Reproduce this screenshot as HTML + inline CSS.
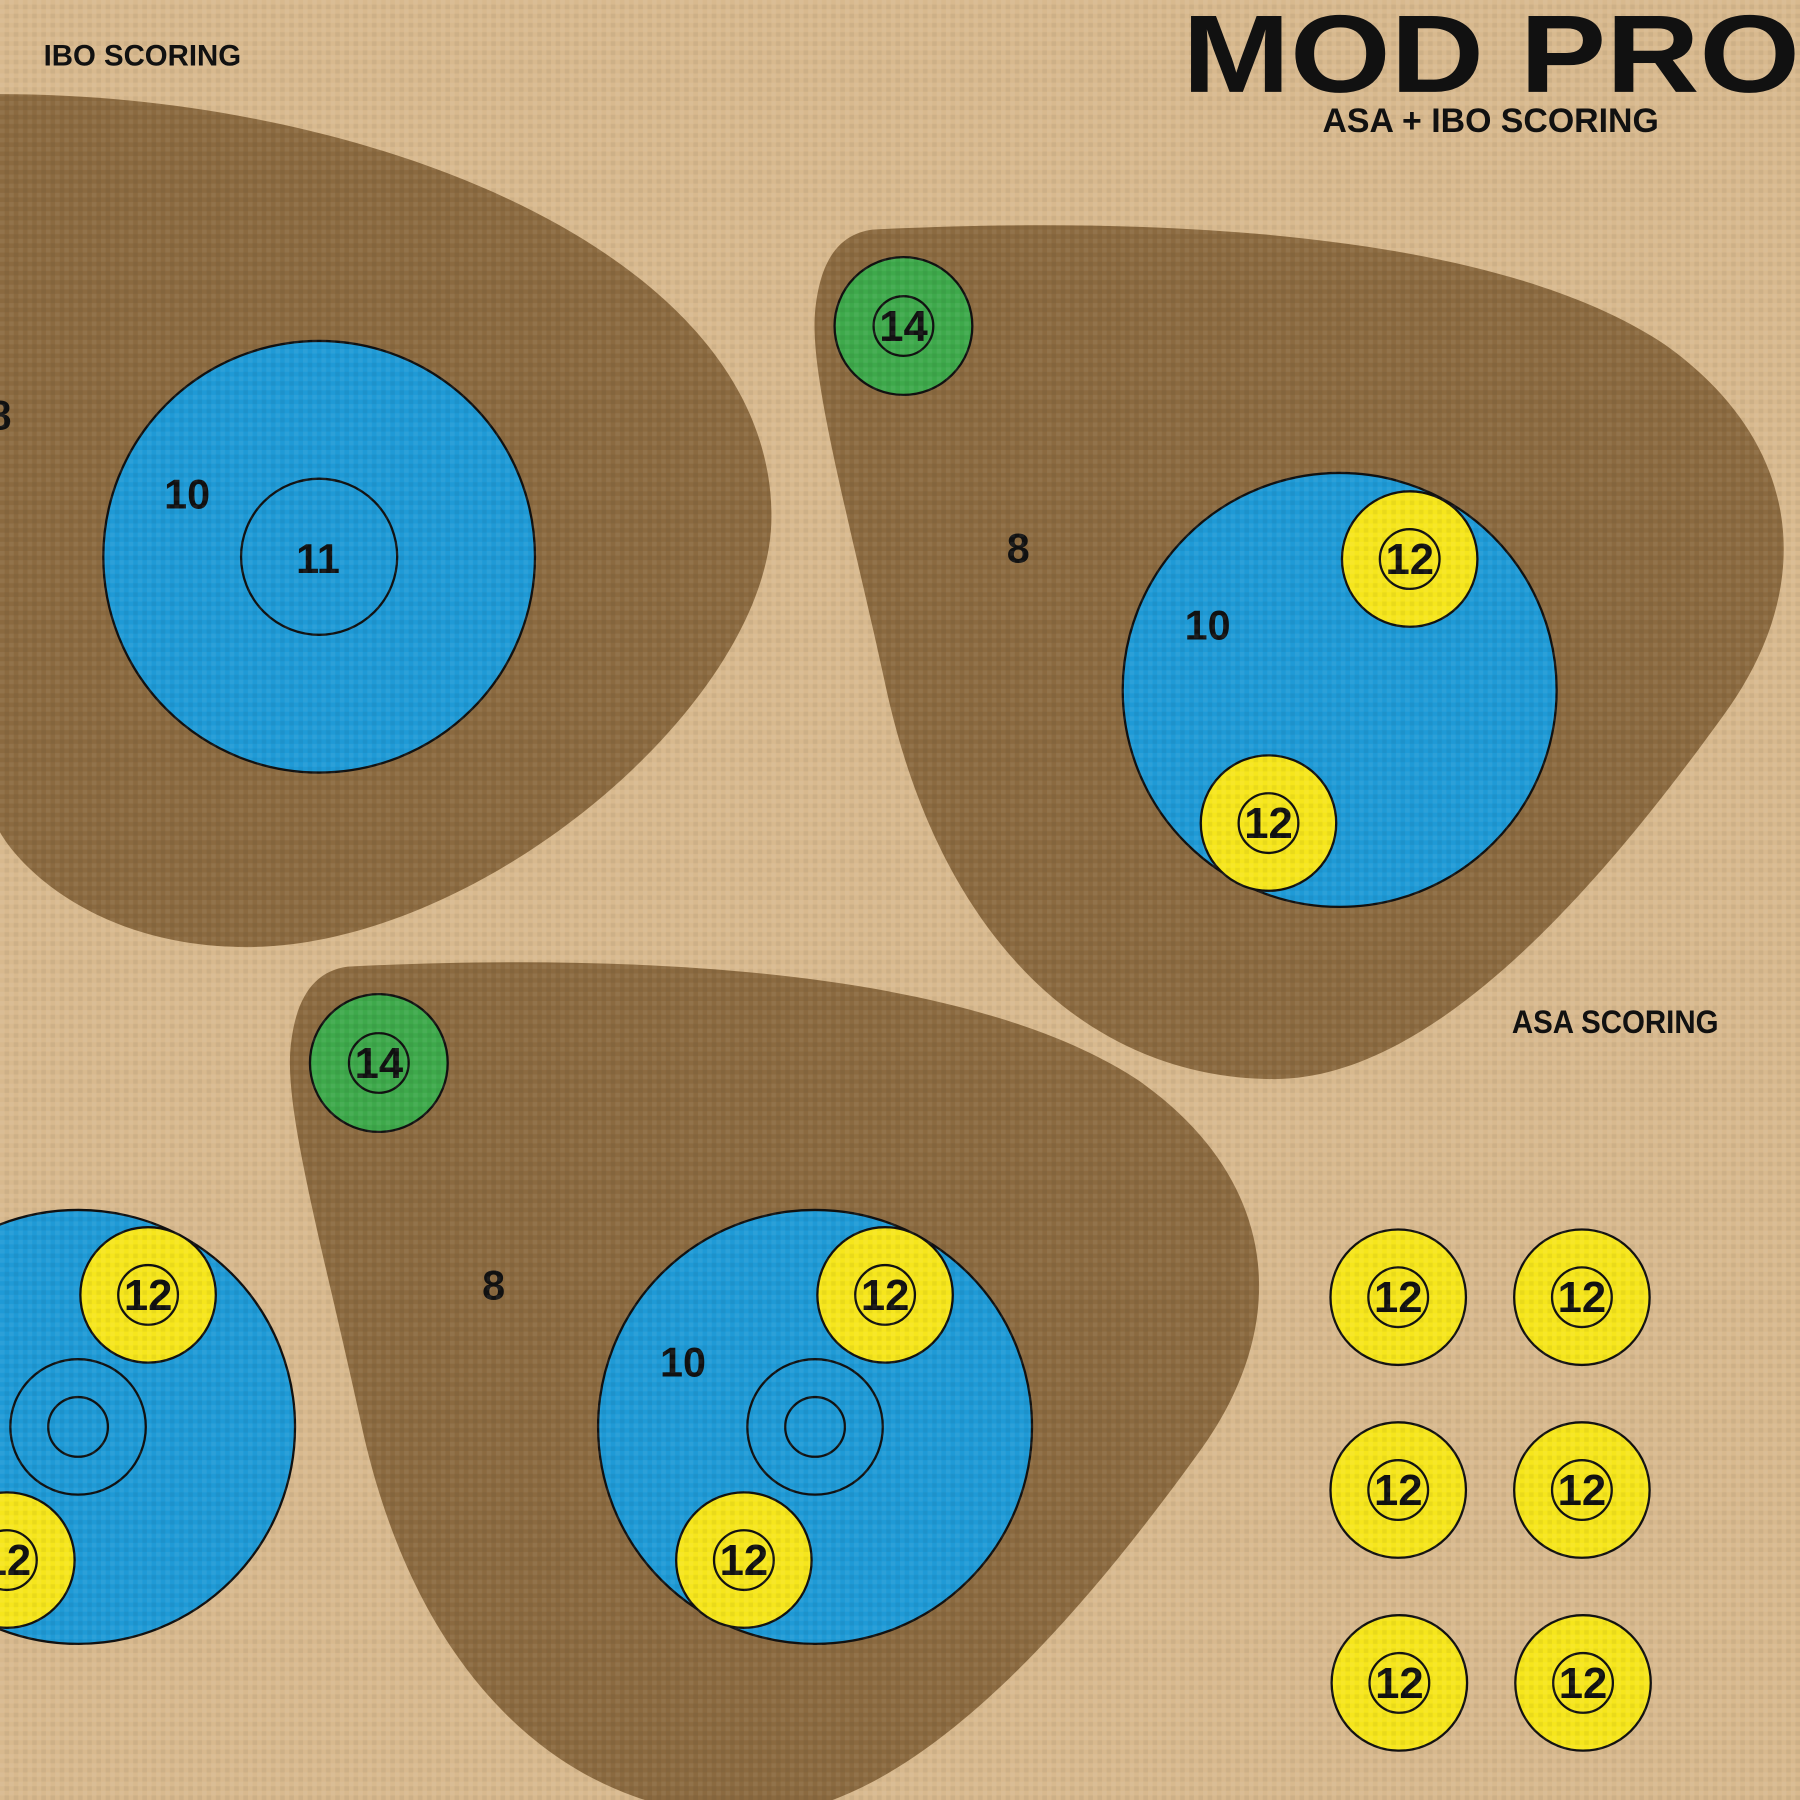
<!DOCTYPE html>
<html><head><meta charset="utf-8"><style>
html,body{margin:0;padding:0;background:#d8b98e;}
svg{display:block;}
text{font-family:"Liberation Sans","DejaVu Sans",sans-serif;font-weight:bold;fill:#111;}
</style></head><body>
<svg width="1800" height="1800" viewBox="0 0 1568 1568" xmlns="http://www.w3.org/2000/svg">
<defs>
<pattern id="weave" width="8" height="8" patternUnits="userSpaceOnUse">
<rect width="8" height="8" fill="rgba(0,0,0,0)"/>
<rect width="4" height="4" fill="rgba(255,255,255,0.06)"/>
<rect x="4" y="4" width="4" height="4" fill="rgba(0,0,0,0.05)"/>
</pattern>
<g id="ybull">
<circle r="59" fill="#f6e61c" stroke="#111" stroke-width="2"/>
<circle r="26" fill="none" stroke="#111" stroke-width="2"/>
<text y="13" text-anchor="middle" font-size="38">12</text>
</g>
<g id="gbull">
<circle r="60" fill="#3ea94b" stroke="#111" stroke-width="2"/>
<circle r="26" fill="none" stroke="#111" stroke-width="2"/>
<text y="13" text-anchor="middle" font-size="38">14</text>
</g>
<path id="blob" d="M760,200 C1000,188 1300,200 1450,300 C1570,385 1585,510 1500,625 C1395,770 1250,940 1110,940 C950,940 820,820 772,600 C742,460 705,330 710,272 C714,228 730,204 760,200 Z"/>
</defs>
<rect width="1568" height="1568" fill="#d8b98e"/>

<path d="M0,82 C320,82 672,220 672,450 C672,610 420,825 215,825 C90,825 20,760 0,725 Z" fill="#8b6a40"/>
<circle cx="278" cy="485" r="188" fill="#1f9ad6" stroke="#111" stroke-width="2"/>
<circle cx="278" cy="485" r="68" fill="none" stroke="#111" stroke-width="2"/>
<text x="163" y="443" text-anchor="middle" font-size="36">10</text>
<text x="277" y="499" text-anchor="middle" font-size="36">11</text>
<text x="0" y="374" text-anchor="middle" font-size="36">8</text>

<use href="#blob" fill="#8b6a40"/>
<use href="#gbull" x="787" y="284"/>
<circle cx="1167" cy="601" r="189" fill="#1f9ad6" stroke="#111" stroke-width="2"/>
<use href="#ybull" x="1228" y="487"/>
<use href="#ybull" x="1105" y="717"/>
<text x="887" y="490" text-anchor="middle" font-size="36">8</text>
<text x="1052" y="557" text-anchor="middle" font-size="36">10</text>

<g transform="translate(-457,642)">
<use href="#blob" fill="#8b6a40"/>
</g>
<use href="#gbull" x="330" y="926"/>
<circle cx="710" cy="1243" r="189" fill="#1f9ad6" stroke="#111" stroke-width="2"/>
<circle cx="710" cy="1243" r="59" fill="none" stroke="#111" stroke-width="2"/>
<circle cx="710" cy="1243" r="26" fill="none" stroke="#111" stroke-width="2"/>
<use href="#ybull" x="771" y="1128"/>
<use href="#ybull" x="648" y="1359"/>
<text x="430" y="1132" text-anchor="middle" font-size="36">8</text>
<text x="595" y="1199" text-anchor="middle" font-size="36">10</text>

<circle cx="68" cy="1243" r="189" fill="#1f9ad6" stroke="#111" stroke-width="2"/>
<circle cx="68" cy="1243" r="59" fill="none" stroke="#111" stroke-width="2"/>
<circle cx="68" cy="1243" r="26" fill="none" stroke="#111" stroke-width="2"/>
<use href="#ybull" x="129" y="1128"/>
<use href="#ybull" x="6" y="1359"/>

<use href="#ybull" x="1218" y="1130"/>
<use href="#ybull" x="1378" y="1130"/>
<use href="#ybull" x="1218" y="1298"/>
<use href="#ybull" x="1378" y="1298"/>
<use href="#ybull" x="1219" y="1466"/>
<use href="#ybull" x="1379" y="1466"/>

<rect width="1568" height="1568" fill="url(#weave)"/>

<text x="38" y="57" font-size="26" textLength="172" lengthAdjust="spacingAndGlyphs">IBO SCORING</text>
<text x="1030" y="80" font-size="96" textLength="538" lengthAdjust="spacingAndGlyphs" style="font-weight:900">MOD PRO</text>
<text x="1152" y="115" font-size="30" textLength="293" lengthAdjust="spacingAndGlyphs">ASA + IBO SCORING</text>
<text x="1317" y="900" font-size="28" textLength="180" lengthAdjust="spacingAndGlyphs">ASA SCORING</text>
</svg>
</body></html>
